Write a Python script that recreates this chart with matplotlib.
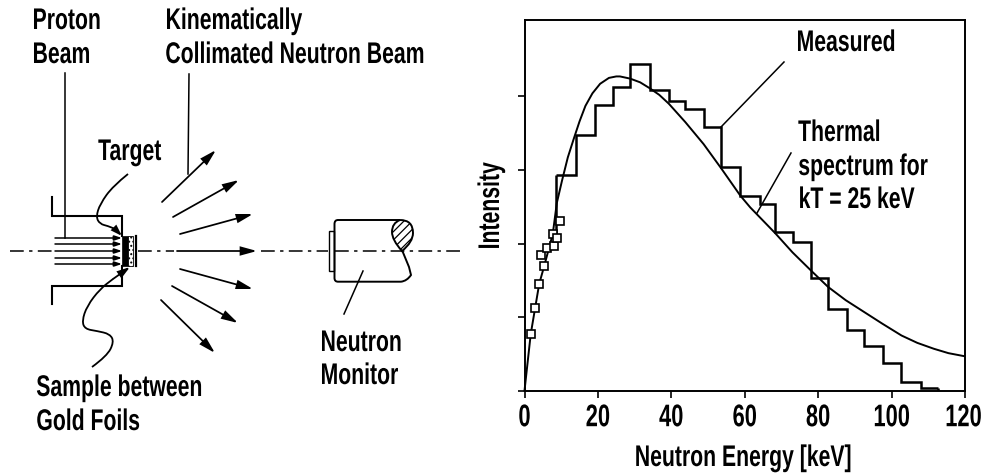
import matplotlib
matplotlib.use("Agg")
import matplotlib.pyplot as plt
from matplotlib.patches import FancyArrowPatch, PathPatch, Rectangle
from matplotlib.path import Path
from matplotlib.patheffects import AbstractPathEffect
from matplotlib.transforms import Affine2D

plt.rcParams['font.family'] = ['Liberation Sans', 'DejaVu Sans']
plt.rcParams['hatch.linewidth'] = 0.9

W, H = 987, 477
FS = 21.5


class Squeeze(AbstractPathEffect):
    """Condenses real text along its own direction (no condensed family is installed)."""

    def __init__(self, factor=0.71, about='start', vertical=False):
        super().__init__()
        self.factor, self.about, self.vertical = factor, about, vertical

    def draw_path(self, renderer, gc, tpath, affine, rgbFace=None):
        ext = tpath.get_extents(affine)
        f = self.factor
        if self.vertical:
            y0 = (ext.y0 + ext.y1) / 2
            t = Affine2D().translate(0, -y0).scale(1, f).translate(0, y0)
        elif self.about == 'start':
            t = Affine2D().translate(-ext.x0, 0).scale(f, 1).translate(ext.x0, 0)
        elif self.about == 'center':
            x0 = (ext.x0 + ext.x1) / 2
            t = Affine2D().translate(-x0, 0).scale(f, 1).translate(x0, 0)
        else:  # right-aligned text, drawn centred on its anchor
            t = Affine2D().translate(-ext.x1, 0).scale(f, 1).translate(ext.x1 + f * ext.width / 2, 0)
        renderer.draw_path(gc, tpath, affine + t, rgbFace)


# ---- spectrum data (keV, intensity in tick units) ----
hist_edges = [8.6, 13.9, 19.3, 24.0, 28.8, 34.1, 39.3, 43.8, 48.8, 53.6, 58.8, 64.1, 68.3,
              73.2, 78.1, 82.7, 87.8, 92.5, 97.7, 102.7, 107.9, 112.7]
hist_values = [2.93, 3.47, 3.88, 4.13, 4.44, 4.08, 3.94, 3.83, 3.58, 3.04, 2.65, 2.54, 2.15,
               2.02, 1.53, 1.11, 0.83, 0.61, 0.38, 0.12, 0.04]
hist_riser_bottom = 2.0
curve_kev = [0, 1.7, 4.0, 5.4, 7.7, 8.8, 10.2, 11.8, 13.4, 15.0, 16.6, 18.5, 20.6, 23.0, 25.0, 26.0, 28.8,
             31.5, 34.1, 36.7, 39.3, 43.8, 48.8, 53.6, 58.8, 61.5, 68.3, 73.0, 78.1, 82.7,
             87.5, 92.5, 97.5, 102.7, 107.0, 111.5, 115.5, 119.7]
curve_val = [0, 0.77, 1.45, 1.70, 2.13, 2.55, 2.85, 3.17, 3.42, 3.66, 3.87, 4.04, 4.17, 4.25, 4.27, 4.27, 4.24,
             4.19, 4.11, 4.02, 3.90, 3.65, 3.35, 3.02, 2.65, 2.49, 2.14, 1.88, 1.63, 1.41,
             1.23, 1.07, 0.91, 0.75, 0.65, 0.57, 0.51, 0.47]
square_kev = [1.7, 2.9, 4.0, 5.4, 4.6, 6.2, 8.0, 7.7, 8.9, 9.8]
square_val = [0.77, 1.12, 1.45, 1.70, 1.85, 1.94, 1.97, 2.13, 2.07, 2.30]
x_ticks = [0, 20, 40, 60, 80, 100, 120]
y_ticks = [0, 1, 2, 3, 4]

# ---- schematic geometry (image pixels) ----
beam_ys = [239, 245, 252, 259, 265]
neutron_arrows = [((162, 203), (216, 151)), ((173, 218), (239, 181)), ((180, 235), (253, 215)),
                  ((177, 252), (257, 252)), ((180, 270), (253, 290)), ((172, 287), (238, 324)),
                  ((161, 301), (215, 354))]
housing_top = [(52, 198), (52, 217), (122, 217), (122, 237)]
housing_bottom = [(52, 305), (52, 287), (122, 287), (122, 267)]
axis_segments = [(10, 54), (138, 174), (261, 328), (335, 465)]
target_leader = [(128, 175), (113, 187), (100, 205), (96, 218), (100, 225), (108, 227), (115, 230)]
sample_leader = [(92, 368), (107, 357), (114, 343), (110, 335), (97, 332), (85, 330), (82, 322),
                 (87, 307), (100, 290), (113, 280)]
straight_leaders = [((65, 74), (65, 239)), ((189, 75), (188, 175)), ((363, 272), (344, 315)),
                    ((721, 128), (784, 63)), ((757, 214), (791, 154))]

labels = [("Proton", 32, 30), ("Beam", 32, 64), ("Kinematically", 165, 30),
          ("Collimated Neutron Beam", 165, 64), ("Target", 98, 161),
          ("Sample between", 36, 397), ("Gold Foils", 36, 431), ("Neutron", 320, 352),
          ("Monitor", 320, 385), ("Measured", 796, 52), ("Thermal", 798, 142),
          ("spectrum for", 798, 176), ("kT = 25 keV", 798, 209)]

fig = plt.figure(figsize=(W / 100, H / 100), dpi=100)

# ---- spectrum panel ----
ax = fig.add_axes([524.5 / W, 1 - 391.7 / H, 440.5 / W, 370.7 / H])
ax.set_xlim(0, 120)
ax.set_ylim(0, 370.7 / 73.6)
ax.stairs(hist_values, hist_edges, baseline=None, color='k', lw=1.8, joinstyle='miter')
ax.vlines(hist_edges[0], hist_riser_bottom, hist_values[0], color='k', lw=1.8)
ax.vlines(hist_edges[-1], 0, hist_values[-1], color='k', lw=1.8)
ax.plot(curve_kev, curve_val, color='k', lw=1.4, clip_on=False)
ax.plot(square_kev, square_val, ls='none', marker='s', ms=6, mfc='white', mec='k', mew=1.2, zorder=5)
ax.set_xticks(x_ticks)
ax.set_yticks(y_ticks)
ax.set_yticklabels([])
ax.tick_params(axis='both', length=5, width=1.2, direction='out', pad=4, labelsize=FS + 1)
xlabs = ax.get_xticklabels()
for lab in xlabs:
    lab.set_fontweight('bold')
    lab.set_path_effects([Squeeze(0.70, 'center')])
xlabs[-1].set_ha('right')
xlabs[-1].set_path_effects([Squeeze(0.70, 'right')])
for s in ax.spines.values():
    s.set_linewidth(1.4)

# ---- overlay in pixel coordinates ----
ov = fig.add_axes([0, 0, 1, 1], facecolor='none')
ov.set_xlim(0, W)
ov.set_ylim(H, 0)
ov.axis('off')


def arrow(a, b, hl=9.5, hw=2.6, lw=1.25):
    ov.add_patch(FancyArrowPatch(a, b, arrowstyle=f'-|>,head_length={hl},head_width={hw}',
                                 mutation_scale=1, lw=lw, color='k', shrinkA=0, shrinkB=0,
                                 joinstyle='miter'))


def smooth(pts, lw=1.3):
    verts, codes = [pts[0]], [Path.MOVETO]
    for p, q in zip(pts[1:-1], pts[2:]):
        verts += [p, ((p[0] + q[0]) / 2, (p[1] + q[1]) / 2)]
        codes += [Path.CURVE3, Path.CURVE3]
    verts.append(pts[-1])
    codes.append(Path.LINETO)
    ov.add_patch(PathPatch(Path(verts, codes), fc='none', ec='k', lw=lw))


for a, b in axis_segments:
    ov.plot([a, b], [252, 252], color='k', lw=1.1, ls=(0, (9, 3.5, 2.2, 3.5)))
for y in beam_ys:
    arrow((55, y), (122, y), hl=4.5, hw=1.5, lw=1.1)
for a, b in neutron_arrows:
    arrow(a, b)
for pts in (housing_top, housing_bottom):
    ov.plot(*zip(*pts), color='k', lw=1.5, solid_joinstyle='miter')
for a, b in straight_leaders:
    ov.plot([a[0], b[0]], [a[1], b[1]], color='k', lw=1.1)

# target, sample and foil
ov.add_patch(Rectangle((122, 237), 6, 30, fc='k', ec='k', lw=0.5))
ov.add_patch(Rectangle((128, 237), 5, 30, fc='white', ec='k', lw=0.6, hatch='....'))
ov.plot([135.5, 135.5], [237, 267], color='k', lw=1.6)

# curved leaders
smooth(target_leader)
arrow(target_leader[-1], (122, 237), hl=6, hw=2, lw=1.3)
smooth(sample_leader)
arrow(sample_leader[-1], (130, 268), hl=7, hw=2.2, lw=1.3)

# monitor
ov.add_patch(Rectangle((328.7, 232), 5.6, 40, fc='white', ec='k', lw=1.0))
monitor_verts = [(400, 221), (338, 221), (334.5, 221), (334.5, 225), (334.5, 279), (334.5, 282.7),
                 (338, 282.7), (401, 282.7), (407, 282), (411, 276), (409, 268), (402, 251)]
monitor_codes = [Path.MOVETO, Path.LINETO, Path.CURVE3, Path.CURVE3, Path.LINETO, Path.CURVE3,
                 Path.CURVE3, Path.LINETO, Path.CURVE3, Path.CURVE3, Path.LINETO, Path.LINETO]
ov.add_patch(PathPatch(Path(monitor_verts, monitor_codes), fc='none', ec='k', lw=1.4))
blob_verts = [(400, 221), (413, 221), (413, 234), (413, 243), (402, 252), (392, 241), (392, 233),
              (392, 224), (400, 221)]
blob_codes = [Path.MOVETO, Path.CURVE3, Path.CURVE3, Path.CURVE3, Path.CURVE3, Path.CURVE3,
              Path.CURVE3, Path.CURVE3, Path.CURVE3]
ov.add_patch(PathPatch(Path(blob_verts, blob_codes), fc='white', ec='k', lw=1.4, hatch='////'))

# text
for s, x, y in labels:
    t = ov.text(x, y, s, fontsize=FS, fontweight='bold', ha='left', va='baseline')
    t.set_path_effects([Squeeze(0.71, 'start')])
t = ov.text(743, 467, "Neutron Energy [keV]", fontsize=FS, fontweight='bold', ha='center', va='baseline')
t.set_path_effects([Squeeze(0.71, 'center')])
t = ov.text(505, 207, "Intensity", fontsize=FS, fontweight='bold', rotation=90, ha='right', va='center')
t.set_path_effects([Squeeze(0.71, vertical=True)])

fig.savefig("out.png", dpi=100)
